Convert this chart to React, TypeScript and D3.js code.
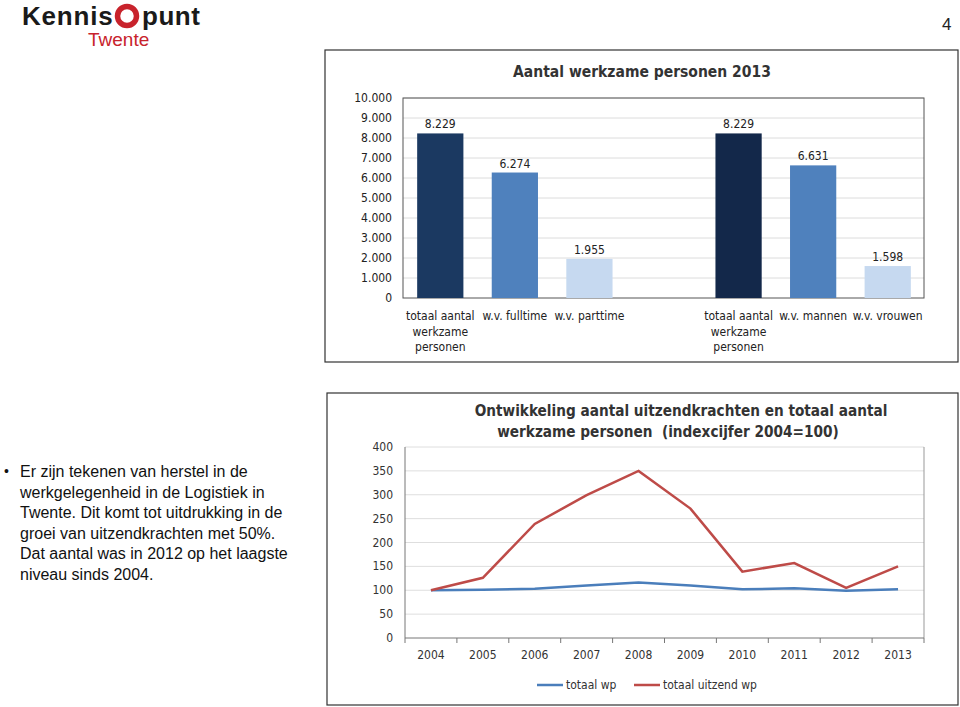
import React from "react";
import * as d3 from "d3";

const barCategories = [
  ["totaal aantal", "werkzame", "personen"],
  ["w.v. fulltime"],
  ["w.v. parttime"],
  [],
  ["totaal aantal", "werkzame", "personen"],
  ["w.v. mannen"],
  ["w.v. vrouwen"],
];
const barValues = [8229, 6274, 1955, null, 8229, 6631, 1598];
const barLabels = ["8.229", "6.274", "1.955", "", "8.229", "6.631", "1.598"];
const barColors = ["#1b3961", "#4f81bd", "#c6d9f0", "none", "#13284a", "#4f81bd", "#c6d9f0"];
const barTicks = [0, 1000, 2000, 3000, 4000, 5000, 6000, 7000, 8000, 9000, 10000];

const years = ["2004", "2005", "2006", "2007", "2008", "2009", "2010", "2011", "2012", "2013"];
const totaalWp = [100, 101, 103, 110, 116, 110, 102, 104, 99, 102];
const uitzendWp = [100, 126, 239, 299, 350, 271, 139, 157, 105, 150];
const lineTicks = [0, 50, 100, 150, 200, 250, 300, 350, 400];

const bulletLines = [
  "Er zijn tekenen van herstel in de",
  "werkgelegenheid in de Logistiek in",
  "Twente. Dit komt tot uitdrukking in de",
  "groei van uitzendkrachten met 50%.",
  "Dat aantal was in 2012 op het laagste",
  "niveau sinds 2004.",
];

const narrow = "'Liberation Sans Narrow', 'DejaVu Sans Condensed', 'Liberation Sans', sans-serif";
const arial = "'Liberation Sans', Arial, sans-serif";

function fmt(v: number) {
  return v === 0 ? "0" : d3.format(",")(v).replace(/,/g, ".");
}

export default function App() {
  // top bar chart
  const bx = d3.scaleBand<number>().domain(d3.range(barValues.length)).range([403, 925]).paddingInner(0.38).paddingOuter(0.19);
  const by = d3.scaleLinear().domain([0, 10000]).range([298, 98]);

  // bottom line chart
  const lx = d3.scaleBand<string>().domain(years).range([405, 924]);
  const ly = d3.scaleLinear().domain([0, 400]).range([638, 447]);
  const line = d3.line<number>().x((_, i) => (lx(years[i]) as number) + lx.bandwidth() / 2).y((d) => ly(d));

  return (
    <svg width={960} height={707} style={{ position: "absolute", left: 0, top: 0, background: "#fff" }}>
      {/* page number */}
      <text x={942} y={30} fontFamily={arial} fontSize={17} fill="#222">4</text>

      {/* logo */}
      <text x={22} y={25} fontFamily={arial} fontWeight="bold" fontSize={26} fill="#1a1a1a" letterSpacing={0.8}>Kennis</text>
      <circle cx={127} cy={16} r={9.5} fill="none" stroke="#c8232c" strokeWidth={5.5} />
      <text x={142} y={25} fontFamily={arial} fontWeight="bold" fontSize={26} fill="#1a1a1a" letterSpacing={0.5}>punt</text>
      <text x={88} y={46} fontFamily={arial} fontSize={19} fill="#c8232c">Twente</text>

      {/* bullet text */}
      <text x={4} y={476} fontFamily={arial} fontSize={14} fill="#111">•</text>
      {bulletLines.map((t, i) => (
        <text key={i} x={20} y={477 + i * 20.6} fontFamily={arial} fontSize={16} fill="#111">{t}</text>
      ))}

      {/* top chart */}
      <rect x={325} y={50} width={633} height={312} fill="#fff" stroke="#333" strokeWidth={1.2} />
      <text x={642} y={77} textAnchor="middle" fontFamily={narrow} fontWeight="bold" fontSize={15.5} fill="#333">Aantal werkzame personen 2013</text>
      {barTicks.map((t) => (
        <g key={t}>
          {t > 0 && <line x1={403} x2={924} y1={by(t)} y2={by(t)} stroke="#dcdcdc" />}
          <text x={392} y={by(t) + 4} textAnchor="end" fontFamily={narrow} fontSize={12} fill="#222">{fmt(t)}</text>
        </g>
      ))}
      <rect x={403} y={98} width={521} height={200} fill="none" stroke="#555" strokeWidth={1} />
      {barValues.map((v, i) =>
        v == null ? null : (
          <g key={i}>
            <rect x={bx(i)} y={by(v)} width={bx.bandwidth()} height={by(0) - by(v)} fill={barColors[i]} />
            <text x={(bx(i) as number) + bx.bandwidth() / 2} y={by(v) - 5} textAnchor="middle" fontFamily={narrow} fontSize={12} fill="#222">{barLabels[i]}</text>
          </g>
        )
      )}
      {barCategories.map((lines, i) =>
        lines.map((l, j) => (
          <text key={i + "-" + j} x={(bx(i) as number) + bx.bandwidth() / 2} y={320 + j * 15.5} textAnchor="middle" fontFamily={narrow} fontSize={12} fill="#222">{l}</text>
        ))
      )}

      {/* bottom chart */}
      <rect x={327} y={393} width={631} height={312} fill="#fff" stroke="#333" strokeWidth={1.2} />
      <text x={681} y={416} textAnchor="middle" fontFamily={narrow} fontWeight="bold" fontSize={15.2} fill="#333">Ontwikkeling aantal uitzendkrachten en totaal aantal</text>
      <text x={668} y={437} textAnchor="middle" fontFamily={narrow} fontWeight="bold" fontSize={15.2} fill="#333" style={{ whiteSpace: "pre" }}>werkzame personen  (indexcijfer 2004=100)</text>
      {lineTicks.map((t) => (
        <g key={t}>
          {t > 0 && <line x1={405} x2={924} y1={ly(t)} y2={ly(t)} stroke="#dedede" />}
          <text x={393} y={ly(t) + 4} textAnchor="end" fontFamily={narrow} fontSize={12} fill="#333">{t}</text>
        </g>
      ))}
      <line x1={405} x2={405} y1={447} y2={638} stroke="#777" />
      <line x1={924} x2={924} y1={447} y2={638} stroke="#999" />
      <line x1={405} x2={924} y1={638} y2={638} stroke="#777" />
      {d3.range(years.length + 1).map((i) => {
        const x = 405 + i * lx.step();
        return <line key={i} x1={x} x2={x} y1={638} y2={643} stroke="#777" />;
      })}
      {years.map((y) => (
        <text key={y} x={(lx(y) as number) + lx.bandwidth() / 2} y={659} textAnchor="middle" fontFamily={narrow} fontSize={12} fill="#333">{y}</text>
      ))}
      <path d={line(totaalWp) as string} fill="none" stroke="#4a7ebb" strokeWidth={2.5} />
      <path d={line(uitzendWp) as string} fill="none" stroke="#be4b48" strokeWidth={2.5} />
      <line x1={537} x2={563} y1={685} y2={685} stroke="#4a7ebb" strokeWidth={2.5} />
      <text x={566} y={689} fontFamily={narrow} fontSize={12} fill="#333">totaal wp</text>
      <line x1={634} x2={660} y1={685} y2={685} stroke="#be4b48" strokeWidth={2.5} />
      <text x={663} y={689} fontFamily={narrow} fontSize={12} fill="#333">totaal uitzend wp</text>
    </svg>
  );
}
